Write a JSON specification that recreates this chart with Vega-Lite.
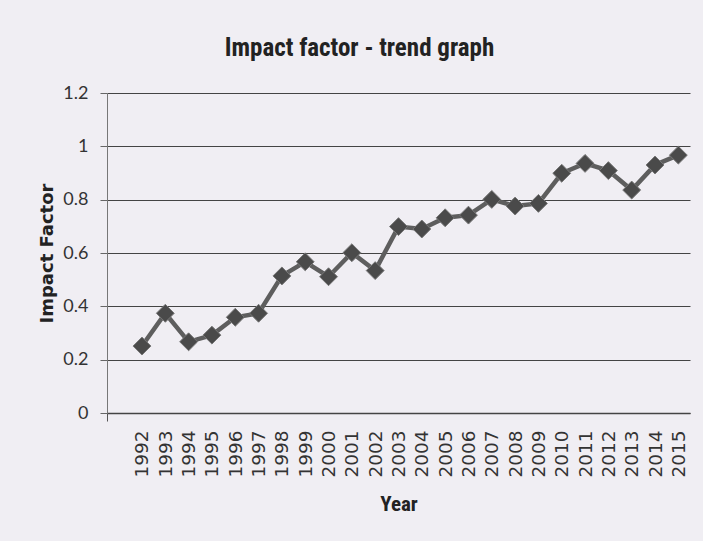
{
  "$schema": "https://vega.github.io/schema/vega-lite/v6.json",
  "autosize": "none",
  "width": 583,
  "height": 320,
  "padding": {"left": 107, "top": 93, "right": 13, "bottom": 128},
  "background": "#f0eef3",
  "title": {
    "text": "Impact factor - trend graph",
    "font": "Roboto Condensed, Roboto",
    "fontSize": 25,
    "fontWeight": "bold",
    "color": "#222222",
    "anchor": "middle",
    "offset": 23,
    "dx": -39
  },
  "config": {
    "view": {"stroke": null},
    "axis": {"labelColor": "#333333", "titleColor": "#222222"}
  },
  "data": {
    "values": [
      {"Year": 1992, "IF": 0.251},
      {"Year": 1993, "IF": 0.374},
      {"Year": 1994, "IF": 0.267},
      {"Year": 1995, "IF": 0.292},
      {"Year": 1996, "IF": 0.359},
      {"Year": 1997, "IF": 0.374},
      {"Year": 1998, "IF": 0.514},
      {"Year": 1999, "IF": 0.567},
      {"Year": 2000, "IF": 0.511},
      {"Year": 2001, "IF": 0.601},
      {"Year": 2002, "IF": 0.534},
      {"Year": 2003, "IF": 0.699},
      {"Year": 2004, "IF": 0.690},
      {"Year": 2005, "IF": 0.732},
      {"Year": 2006, "IF": 0.742},
      {"Year": 2007, "IF": 0.801},
      {"Year": 2008, "IF": 0.776},
      {"Year": 2009, "IF": 0.786},
      {"Year": 2010, "IF": 0.899},
      {"Year": 2011, "IF": 0.936},
      {"Year": 2012, "IF": 0.909},
      {"Year": 2013, "IF": 0.836},
      {"Year": 2014, "IF": 0.930},
      {"Year": 2015, "IF": 0.967}
    ]
  },
  "encoding": {
    "x": {
      "field": "Year",
      "type": "quantitative",
      "scale": {"domain": [1990.5, 2015.5], "nice": false, "zero": false},
      "axis": {
        "title": "Year",
        "titleFont": "Roboto Condensed, Roboto",
        "titleFontSize": 21,
        "titleFontWeight": "bold",
        "titlePadding": 16,
        "values": [1990.5, 1991.5, 1992.5, 1993.5, 1994.5, 1995.5, 1996.5, 1997.5, 1998.5, 1999.5, 2000.5, 2001.5, 2002.5, 2003.5, 2004.5, 2005.5, 2006.5, 2007.5, 2008.5, 2009.5, 2010.5, 2011.5, 2012.5, 2013.5, 2014.5, 2015.5, 1992, 1993, 1994, 1995, 1996, 1997, 1998, 1999, 2000, 2001, 2002, 2003, 2004, 2005, 2006, 2007, 2008, 2009, 2010, 2011, 2012, 2013, 2014, 2015],
        "format": "d",
        "labelExpr": "datum.value % 1 === 0 ? datum.label : ''",
        "labelAngle": -90,
        "labelFont": "DejaVu Sans",
        "labelFontSize": 18.5,
        "labelPadding": 9,
        "labelOverlap": false,
        "labelFlush": false,
        "tickSize": 8,
        "tickColor": "#555555",
        "tickOpacity": {"condition": {"test": "datum.value % 1 === 0", "value": 0}, "value": 1},
        "domainColor": "#444444",
        "domainWidth": 1.5,
        "grid": false
      }
    },
    "y": {
      "field": "IF",
      "type": "quantitative",
      "scale": {"domain": [0, 1.2], "nice": false},
      "axis": {
        "title": "Impact Factor",
        "titleFont": "DejaVu Sans",
        "titleFontSize": 18,
        "titleFontWeight": "bold",
        "titlePadding": 6,
        "values": [0, 0.2, 0.4, 0.6, 0.8, 1, 1.2],
        "format": "~g",
        "labelFont": "Lato",
        "labelFontSize": 18,
        "labelPadding": 12,
        "tickSize": 7,
        "tickColor": "#666666",
        "domainColor": "#777777",
        "grid": true,
        "gridColor": "#444444",
        "gridWidth": 1.2
      }
    }
  },
  "layer": [
    {"mark": {"type": "line", "color": "#5e5e5e", "strokeWidth": 4.5}},
    {"mark": {"type": "point", "shape": "diamond", "filled": true, "size": 320, "color": "#4a4a4a", "opacity": 1, "stroke": "#777777", "strokeWidth": 1}}
  ]
}
